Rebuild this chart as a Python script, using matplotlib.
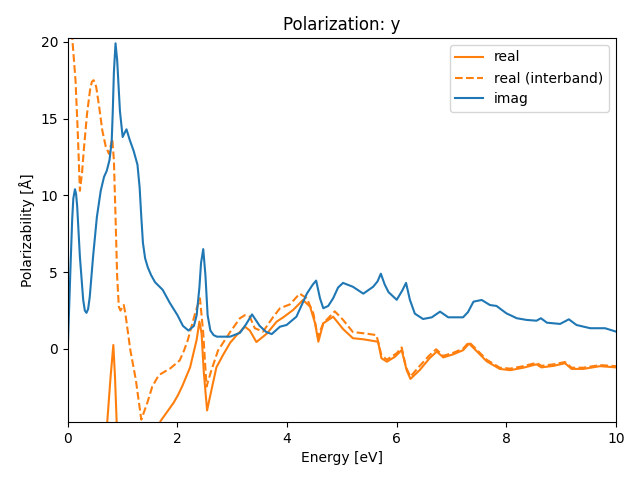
import matplotlib
matplotlib.use("Agg")
import matplotlib.pyplot as plt

# imaginary part
imag_x = [0.0, 0.05, 0.08, 0.1, 0.13, 0.15, 0.17, 0.22, 0.28, 0.31, 0.34, 0.37, 0.40, 0.46, 0.53,
          0.6, 0.66, 0.71, 0.76, 0.80, 0.82, 0.84, 0.87, 0.9, 0.95, 1.0, 1.04, 1.07, 1.13,
          1.2, 1.27, 1.31, 1.34, 1.37, 1.41, 1.46, 1.52, 1.59, 1.73, 1.86, 2.0, 2.1, 2.2,
          2.3, 2.35, 2.4, 2.43, 2.47, 2.51, 2.55, 2.6, 2.66, 2.72, 2.96, 3.14, 3.25, 3.36,
          3.5, 3.62, 3.72, 3.87, 3.99, 4.17, 4.36, 4.47, 4.53, 4.6, 4.66, 4.75, 4.84, 4.93,
          5.02, 5.2, 5.39, 5.57, 5.65, 5.71, 5.78, 5.85, 6.0, 6.1, 6.17, 6.24, 6.33, 6.48,
          6.64, 6.79, 6.94, 7.21, 7.3, 7.4, 7.55, 7.7, 7.82, 8.0, 8.19, 8.37, 8.55, 8.63,
          8.74, 8.98, 9.14, 9.28, 9.53, 9.8, 10.0]
imag_y = [0.1, 5.5, 8.5, 9.8, 10.4, 10.1, 9.3, 6.0, 3.2, 2.5, 2.35, 2.6, 3.4, 6.0, 8.6,
          10.3, 11.2, 11.6, 12.3, 13.5, 15.5, 18.0, 19.9, 18.8, 15.5, 13.8, 14.1, 14.3, 13.6,
          12.9, 12.0, 10.5, 8.6, 6.9, 5.9, 5.3, 4.8, 4.35, 3.85, 3.0, 2.2, 1.5, 1.2,
          1.5, 2.2, 4.0, 5.6, 6.5, 4.8, 2.2, 1.2, 0.9, 0.8, 0.8, 1.05, 1.6, 2.25,
          1.5, 1.1, 0.97, 1.45, 1.56, 2.1, 3.6, 4.2, 4.45, 3.3, 2.65, 2.8, 3.3, 4.0,
          4.3, 4.05, 3.6, 4.05, 4.4, 4.9, 4.2, 3.7, 3.2, 3.8, 4.3, 3.2, 2.3, 1.95,
          2.06, 2.43, 2.06, 2.06, 2.4, 3.08, 3.19, 2.86, 2.8, 2.32, 2.0, 1.89, 1.84, 2.0,
          1.71, 1.63, 1.93, 1.56, 1.35, 1.35, 1.13]

# real part, interband only
inter_x = [0.02, 0.07, 0.14, 0.18, 0.22, 0.26, 0.29, 0.35, 0.41, 0.44, 0.47, 0.5, 0.52, 0.57,
           0.63, 0.69, 0.75, 0.81, 0.84, 0.87, 0.9, 0.93, 0.96, 1.02, 1.05, 1.14, 1.24,
           1.34, 1.45, 1.54, 1.66, 1.87, 2.04, 2.12, 2.19, 2.32, 2.41, 2.47, 2.53, 2.62,
           2.74, 2.96, 3.14, 3.23, 3.32, 3.41, 3.56, 3.75, 3.87, 4.05, 4.23, 4.36, 4.48,
           4.56, 4.66, 4.87, 5.02, 5.2, 5.45, 5.63, 5.72, 5.82, 6.0, 6.09, 6.17, 6.25,
           6.42, 6.6, 6.72, 6.85, 7.03, 7.21, 7.32, 7.46, 7.64, 7.88, 8.07, 8.31, 8.55,
           8.64, 8.86, 9.07, 9.19, 9.4, 9.71, 10.0]
inter_y = [28.0, 20.7, 17.5, 14.2, 10.3, 11.5, 12.9, 15.3, 17.0, 17.4, 17.5, 17.3, 17.0, 15.8,
           14.2, 13.2, 12.7, 13.7, 12.3, 8.6, 4.7, 2.75, 2.5, 2.86, 2.3, -0.07, -2.0,
           -4.6, -3.5, -2.45, -1.7, -1.26, -0.75, -0.1, 0.6, 2.3, 3.3, 1.04, -2.45, -1.37,
           -0.1, 1.1, 2.0, 2.2, 2.1, 1.35, 1.13, 2.1, 2.65, 2.9, 3.6, 3.3, 2.3,
           0.8, 1.67, 2.45, 1.9, 1.1, 1.0, 0.9, -0.4, -0.7, -0.28, 0.1, -1.2, -1.8,
           -1.1, -0.4, -0.02, -0.45, -0.25, 0.02, 0.45, -0.05, -0.7, -1.22, -1.28, -1.12, -0.9,
           -1.1, -1.0, -0.85, -1.22, -1.22, -1.05, -1.12]

# real part, total
real_x = [0.3, 0.6, 0.72, 0.78, 0.83, 0.86, 0.89, 0.95, 1.3, 1.6, 1.69, 1.93, 2.01, 2.09,
          2.23, 2.35, 2.4, 2.44, 2.48, 2.54, 2.6, 2.71, 2.83, 2.96, 3.08, 3.23, 3.32, 3.44,
          3.63, 3.81, 3.93, 4.11, 4.29, 4.42, 4.51, 4.57, 4.66, 4.84, 5.02, 5.2, 5.39,
          5.66, 5.72, 5.82, 5.97, 6.09, 6.18, 6.25, 6.42, 6.6, 6.73, 6.85, 7.03, 7.21,
          7.32, 7.46, 7.64, 7.88, 8.07, 8.31, 8.55, 8.64, 8.86, 9.07, 9.19, 9.4, 9.71, 10.0]
real_y = [-40.0, -12.0, -4.7, -1.8, 0.26, -1.8, -4.7, -10.0, -12.0, -6.0, -4.7, -3.5, -3.0, -2.4,
          -1.2, 0.6, 1.78, 1.0, -1.5, -4.0, -3.0, -1.2, -0.4, 0.4, 0.9, 1.45, 1.2, 0.45,
          1.0, 1.78, 2.06, 2.54, 3.19, 2.75, 1.67, 0.47, 1.67, 2.1, 1.3, 0.7, 0.63,
          0.47, -0.6, -0.83, -0.5, -0.07, -1.37, -1.95, -1.37, -0.6, -0.17, -0.55, -0.35, -0.08,
          0.35, -0.15, -0.8, -1.3, -1.38, -1.22, -1.0, -1.2, -1.1, -0.93, -1.3, -1.3, -1.12, -1.2]

fig, ax = plt.subplots(figsize=(6.4, 4.8), dpi=100)
ax.plot(real_x, real_y, color="C1", label="real")
ax.plot(inter_x, inter_y, color="C1", linestyle="--", label="real (interband)")
ax.plot(imag_x, imag_y, color="C0", label="imag")
ax.set_xlim(0, 10)
ax.set_ylim(-4.75, 20.25)
ax.set_xlabel("Energy [eV]")
ax.set_ylabel("Polarizability [Å]")
ax.set_title("Polarization: y")
ax.legend(loc="upper right")
fig.subplots_adjust(left=0.106, right=0.9625, top=0.921, bottom=0.121)
plt.savefig("out.png", dpi=100)
